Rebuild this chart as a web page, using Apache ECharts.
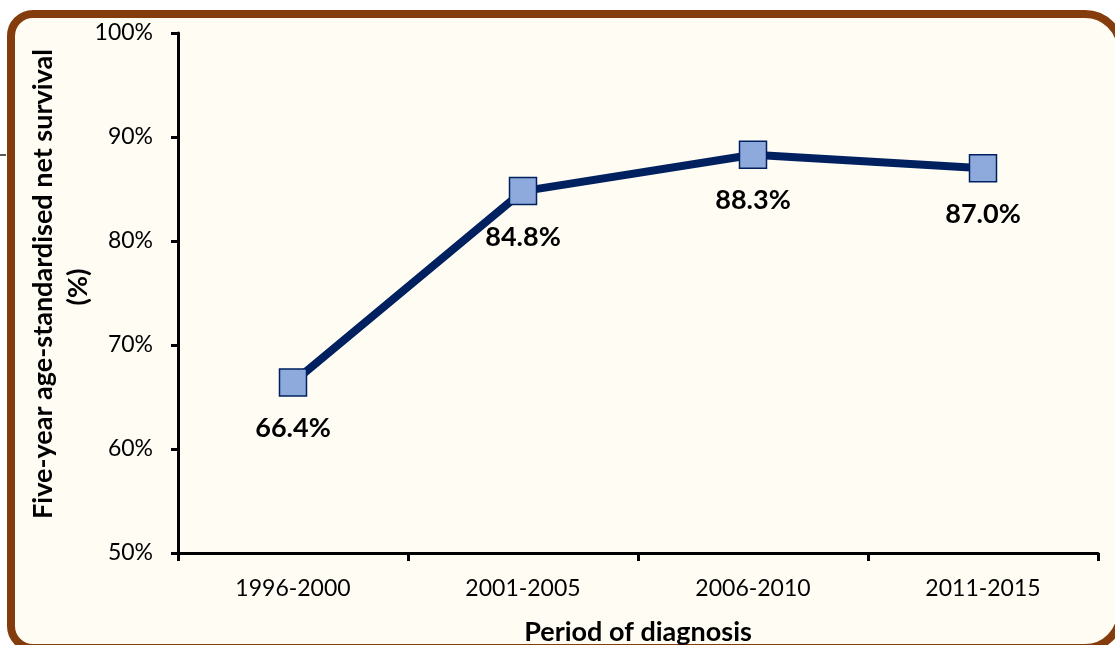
<!DOCTYPE html>
<html>
<head>
<meta charset="utf-8">
<script src="https://cdn.jsdelivr.net/npm/echarts@6/dist/echarts.min.js"></script>
<style>
  html, body { margin: 0; padding: 0; background: #ffffff; }
  #chart { width: 1115px; height: 645px; }
</style>
</head>
<body>
<div id="chart"></div>
<script>
// Five-year age-standardised net survival by period of diagnosis
const periods = ['1996-2000', '2001-2005', '2006-2010', '2011-2015'];
const survival = [66.4, 84.8, 88.3, 87.0];
const yTicks = { min: 50, max: 100, step: 10 };
const yTitleLines = ['Five-year age-standardised net survival', '(%)'];
const xTitle = 'Period of diagnosis';

const FONT = 'Lato, "Open Sans", sans-serif';
const NAVY = '#002060';

const chart = echarts.init(document.getElementById('chart'), null, { renderer: 'canvas' });

chart.setOption({
  backgroundColor: '#ffffff',
  animation: false,
  graphic: [
    {
      // rounded brown frame around the chart area
      type: 'rect',
      z: -10,
      silent: true,
      shape: { x: 11, y: 14, width: 1110, height: 634, r: [22, 36, 36, 22] },
      style: { fill: '#FFFCF4', stroke: '#843C0C', lineWidth: 8 }
    },
    {
      type: 'line',
      z: -10,
      silent: true,
      shape: { x1: 0, y1: 155, x2: 6, y2: 155 },
      style: { stroke: '#222', lineWidth: 1.5 }
    },
    {
      type: 'text',
      x: 43, y: 284,
      rotation: Math.PI / 2,
      style: {
        text: yTitleLines[0],
        font: 'bold 27px ' + FONT,
        fill: '#000',
        align: 'center',
        verticalAlign: 'middle'
      }
    },
    {
      type: 'text',
      x: 78, y: 287,
      rotation: Math.PI / 2,
      style: {
        text: yTitleLines[1],
        font: 'bold 27px ' + FONT,
        fill: '#000',
        align: 'center',
        verticalAlign: 'middle'
      }
    }
  ],
  grid: {
    left: 178, top: 33, right: 17, bottom: 92,
    containLabel: false,
    outerBoundsMode: 'none'
  },
  xAxis: {
    type: 'category',
    data: periods,
    boundaryGap: true,
    name: xTitle,
    nameLocation: 'middle',
    nameGap: 66,
    nameTextStyle: { fontFamily: FONT, fontSize: 27, fontWeight: 'bold', color: '#000' },
    axisLine: { lineStyle: { color: '#000', width: 3 } },
    axisTick: { show: true, length: 8, lineStyle: { color: '#000', width: 3 } },
    axisLabel: { fontFamily: FONT, fontSize: 23, color: '#000', margin: 24 },
    splitLine: { show: false }
  },
  yAxis: {
    type: 'value',
    min: yTicks.min,
    max: yTicks.max,
    interval: yTicks.step,
    axisLine: { show: true, lineStyle: { color: '#000', width: 3 } },
    axisTick: { show: true, length: 7, lineStyle: { color: '#000', width: 3 } },
    axisLabel: { fontFamily: FONT, fontSize: 23, color: '#000', margin: 25, formatter: '{value}%' },
    splitLine: { show: false }
  },
  series: [
    {
      type: 'line',
      data: survival,
      z: 5,
      lineStyle: { color: NAVY, width: 8 },
      symbol: 'rect',
      symbolSize: 27,
      itemStyle: { color: '#8EA9DB', borderColor: NAVY, borderWidth: 1.5 },
      label: {
        show: true,
        position: 'bottom',
        distance: 18,
        fontFamily: FONT,
        fontSize: 27,
        fontWeight: 'bold',
        color: '#000',
        formatter: p => p.value.toFixed(1) + '%'
      }
    }
  ]
});
</script>
</body>
</html>
